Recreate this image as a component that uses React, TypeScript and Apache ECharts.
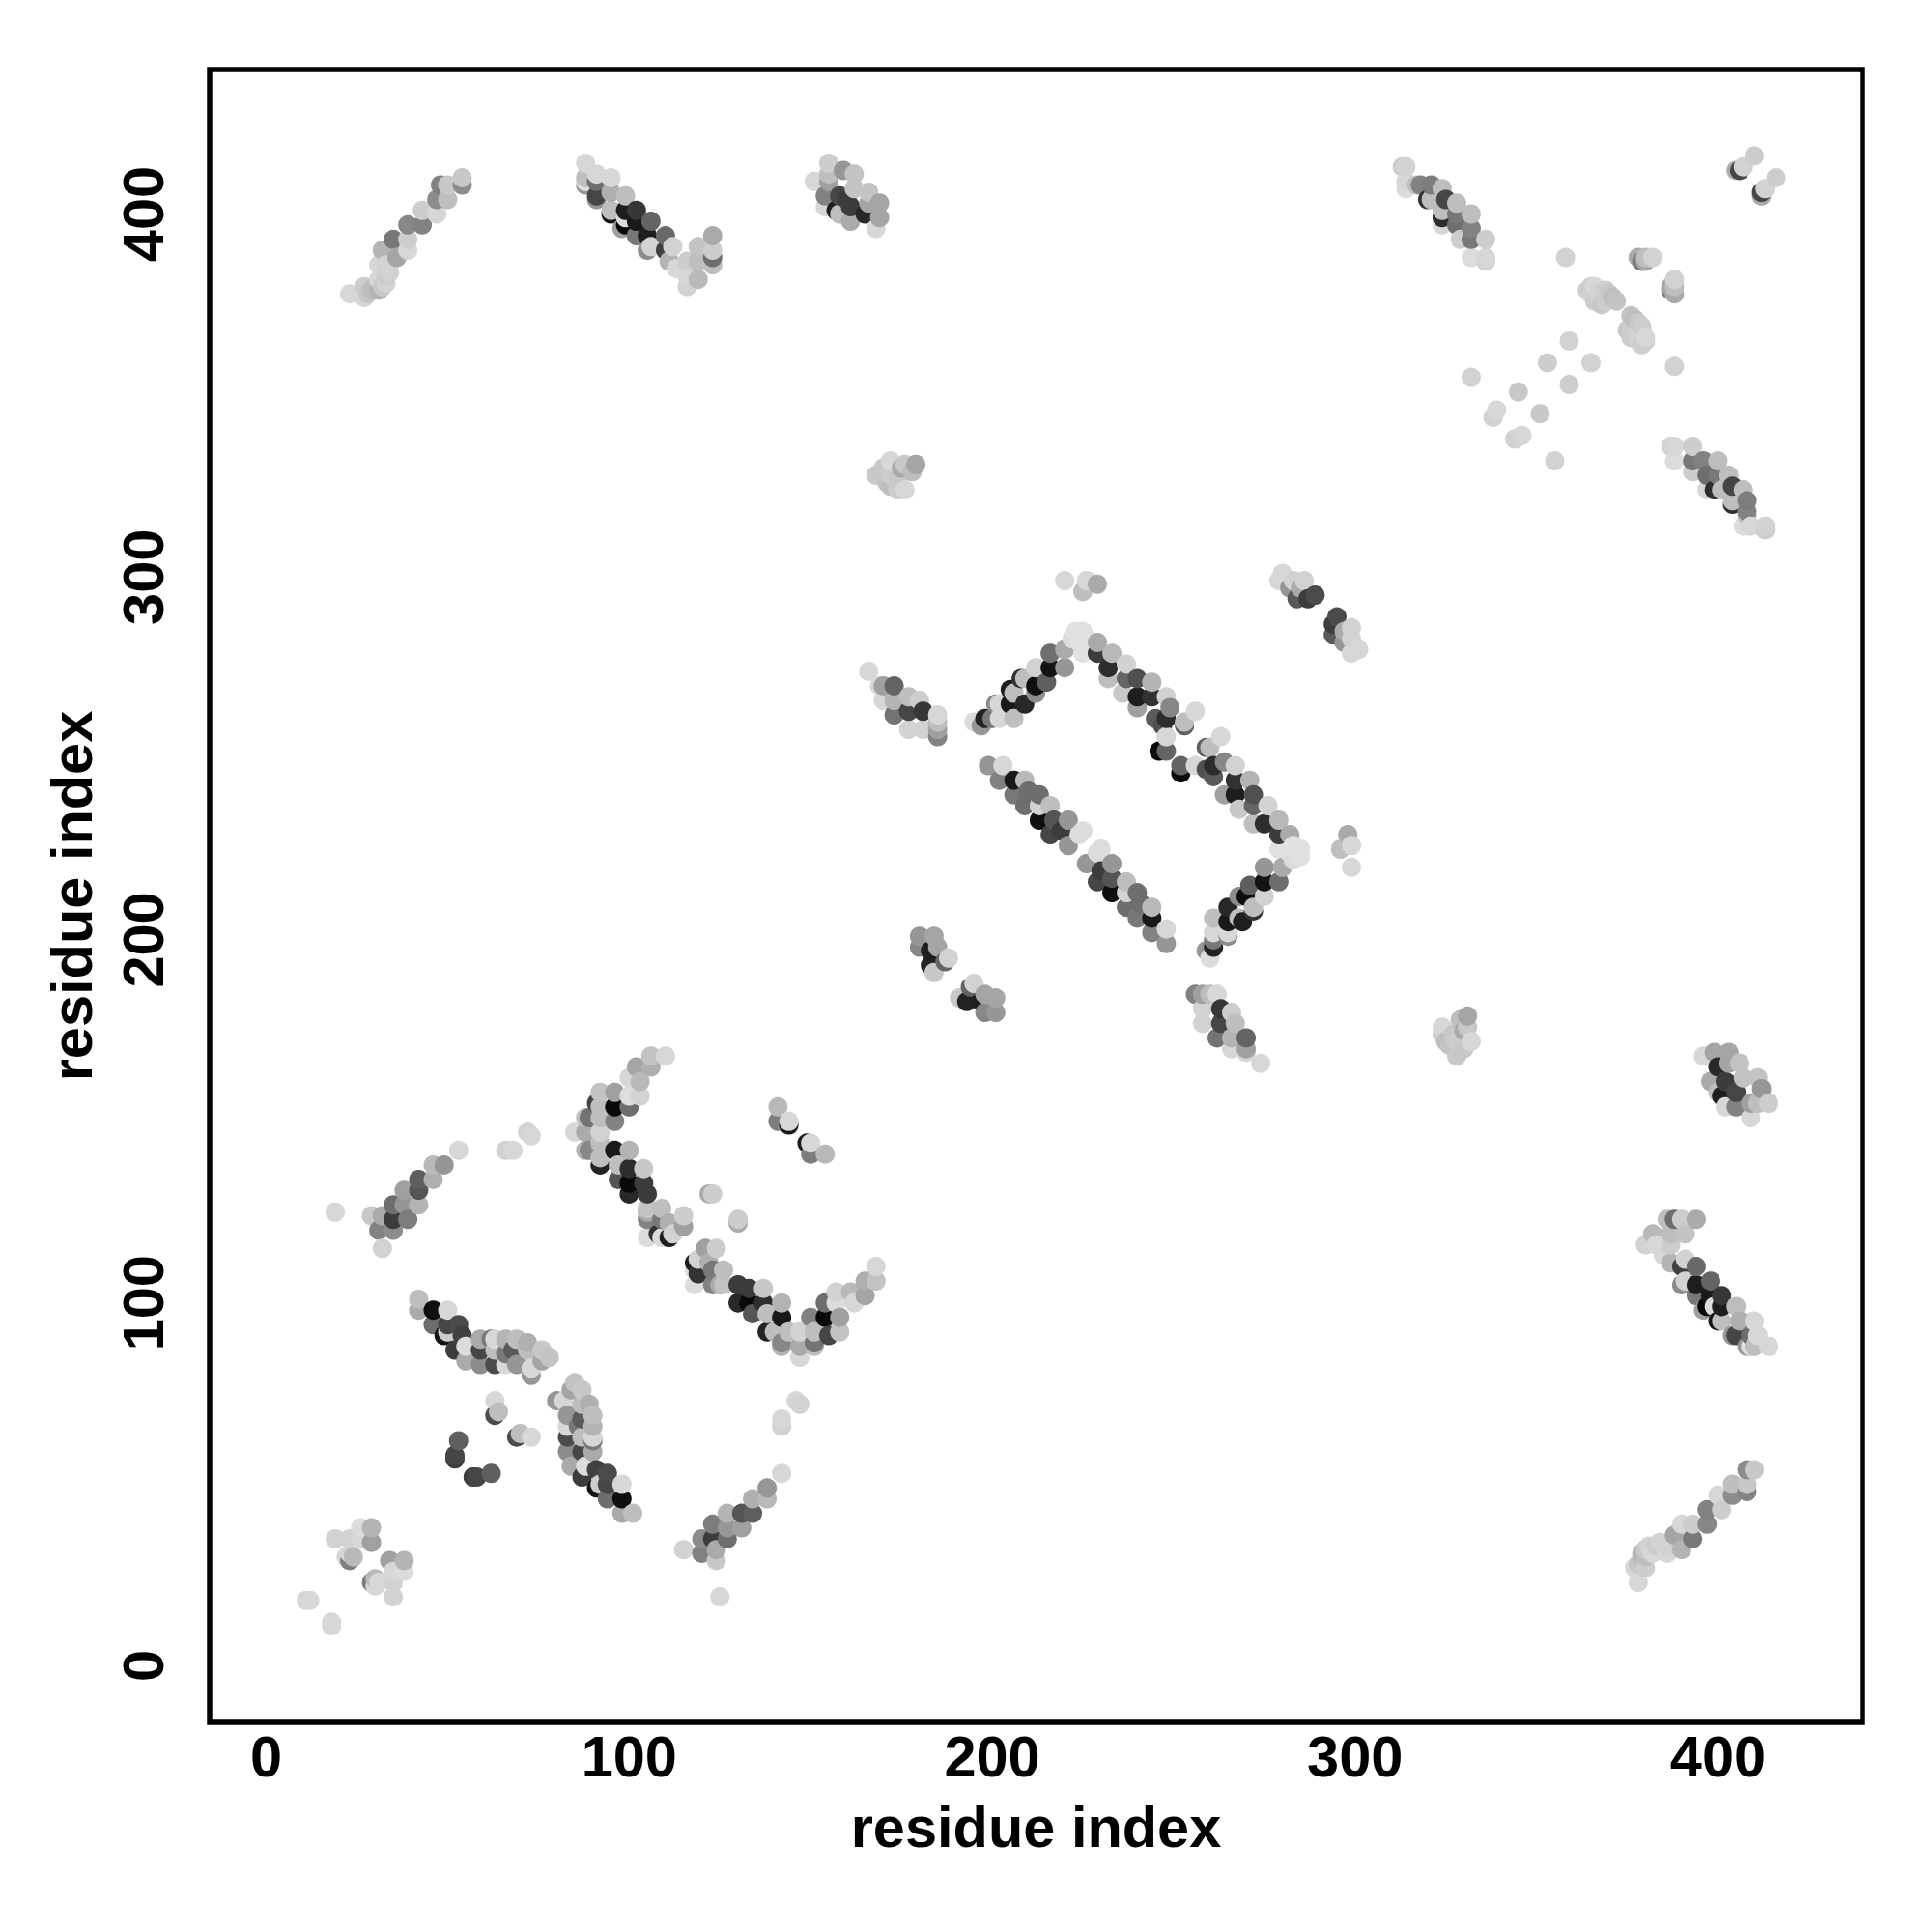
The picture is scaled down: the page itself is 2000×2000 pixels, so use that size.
import React, { useEffect, useRef } from "react";
import * as echarts from "echarts";

type C = [number, number, number];
// Contacts are [residue i, residue j, gray level]; the map is symmetric, so only i < j is listed.
const nearStart: C[] = [[11,18,215],[12,18,215],[19,35,210],[23,35,210],[26,38,220],[29,38,180],[29,34,160],[23,29,125],[24,30,185],[22,30,215],[23,31,215],[26,35,215]];
const strandA: C[] = [[42,101,190],[42,98,170],[46,98,15],[50,98,215],[46,94,110],[50,94,70],[53,94,75],[54,91,65],[49,91,20],[50,92,205],[52,87,60],[55,88,220],[59,90,170],[59,87,70],[59,83,140],[55,84,170],[62,90,120],[63,90,215],[63,87,190],[63,83,75],[66,90,180],[66,83,215],[66,86,120],[69,90,190],[68,87,90],[69,83,150],[72,89,175],[72,87,190],[73,80,150],[73,82,215],[76,84,165],[76,87,200],[78,85,195]];
const innerA: C[] = [[52,58,70],[53,62,95],[52,57,60],[63,73,215],[64,70,190],[63,69,75]];
const strandB: C[] = [[19,125,215],[32,115,210],[29,124,200],[32,124,170],[31,120,130],[35,120,140],[35,123,60],[35,127,110],[38,131,160],[39,123,125],[38,127,150],[42,127,180],[42,131,85],[42,134,95],[46,134,175],[46,138,185],[49,138,150],[53,142,215],[66,142,210],[68,142,215],[72,147,210],[73,146,215]];
const strandC: C[] = [[110,168,215],[106,168,195],[106,165,175],[102,165,165],[103,161,185],[100,162,215],[103,157,210],[100,157,220],[100,154,110],[96,158,160],[92,158,195],[96,154,10],[96,150,130],[92,154,190],[92,151,190],[91,155,70],[89,151,115],[88,151,190],[85,147,215],[88,147,170],[92,147,210]];
const strandD: C[] = [[92,144,190],[89,142,135],[88,142,180],[92,138,35],[92,140,190],[96,142,25],[100,142,180],[97,134,85],[97,138,190],[100,137,45],[104,137,200],[100,133,10],[104,133,60],[100,130,40],[105,130,60],[105,126,195],[109,126,190],[105,123,130],[105,125,170],[109,123,120],[105,118,220],[108,119,50],[109,118,220],[111,122,175],[111,118,30],[112,119,210],[115,121,160],[115,124,205],[122,130,170],[123,130,205],[141,154,185],[141,150,125],[144,149,25],[144,150,215]];
const topA: C[] = [[23,378,215],[27,377,215],[27,380,205],[28,378,200],[29,379,190],[30,380,190],[31,379,180],[32,380,200],[33,381,210],[31,382,215],[33,383,205],[34,384,210],[31,386,215],[33,386,210],[32,390,180],[36,388,165],[35,393,120],[39,390,215],[39,393,205],[39,397,135],[43,397,130],[43,401,205],[47,400,215],[47,404,140],[50,404,190],[48,408,130],[50,408,200],[54,408,140],[54,410,200]];
const topB: C[] = [[88,414,215],[88,410,190],[88,408,150],[88,409,225],[91,411,215],[91,409,110],[91,405,70],[91,404,150],[95,410,215],[95,406,175],[95,401,190],[95,400,20],[99,405,190],[99,401,30],[99,399,220],[99,397,10],[98,396,160],[102,401,55],[102,398,25],[102,394,120],[106,398,100],[105,394,30],[110,394,105],[106,391,210],[105,390,140],[110,390,65],[112,391,210],[111,387,180],[116,387,205],[113,385,215],[116,383,215],[116,380,210],[119,391,195],[119,387,190],[119,382,185],[123,394,170],[123,390,205],[123,388,110],[123,386,190]];
const topC: C[] = [[151,409,215],[155,414,205],[155,411,190],[155,409,160],[154,405,130],[154,402,215],[159,412,150],[158,405,70],[157,401,30],[158,400,190],[162,411,195],[162,407,195],[160,404,60],[161,402,60],[161,398,170],[166,406,195],[166,403,165],[165,400,40],[169,403,165],[169,399,165],[168,396,215]];
const topD: C[] = [[313,413,205],[314,413,210],[314,407,220],[314,409,215],[318,408,130],[317,408,190],[321,408,125],[324,407,190],[321,404,190],[320,404,50],[325,404,70],[328,403,190],[324,401,190],[324,399,45],[324,397,215],[328,400,120],[332,400,190],[328,397,110],[332,396,130],[329,393,205],[332,393,120],[336,393,205],[332,388,220],[336,388,215],[336,387,210]];
const topCorner: C[] = [[410,416,205],[405,412,170],[406,412,70],[407,413,210]];
const crossing: C[] = [[358,388,210],[378,388,170],[379,387,120],[380,387,165],[380,388,190],[382,388,210],[364,379,205],[365,378,210],[365,380,205],[366,380,215],[366,376,205],[367,376,205],[368,375,200],[367,378,210],[369,376,205],[369,379,205],[370,378,200],[372,376,195],[371,377,190],[332,355,210],[338,344,210],[339,346,215],[345,351,200],[353,359,205],[359,365,210]];
const midA: C[] = [[168,328,200],[172,332,215],[172,325,190],[171,326,195],[172,328,205],[170,330,200],[174,327,200],[174,324,205],[175,330,170],[176,331,200],[176,324,215],[178,329,190],[179,331,165],[220,299,215],[225,296,190],[226,299,215],[229,298,170]];
const midB: C[] = [[166,274,215],[170,270,160],[169,270,215],[173,270,100],[170,266,215],[173,266,180],[173,262,115],[177,267,190],[180,266,205],[177,263,70],[181,263,55],[177,258,210],[181,258,210],[185,262,215],[185,260,190],[185,258,160],[185,256,130]];
const midC: C[] = [[180,201,150],[184,201,165],[180,198,135],[185,198,165],[183,197,30],[188,195,210],[187,194,100],[184,191,200],[183,193,35],[279,299,215],[280,301,215],[283,299,210],[282,297,150],[285,297,170],[286,299,210],[284,294,90],[287,294,60],[289,295,75]];
const rectLeft: C[] = [[195,260,220],[198,261,35],[197,259,150],[200,261,120],[201,265,140],[202,265,215],[202,261,215],[206,261,190],[205,269,30],[205,265,25],[209,265,40],[208,272,50],[209,272,190],[206,268,190],[212,268,140],[212,270,15],[215,271,95],[212,275,210],[216,275,20],[216,279,110],[220,275,150],[220,280,170],[222,283,220],[223,285,225],[224,282,225],[225,285,225],[226,283,225],[225,279,225]];
const rectTop: C[] = [[229,282,170],[229,279,60],[233,279,185],[232,272,190],[232,275,45],[237,276,210],[237,272,100],[236,268,200],[240,272,80],[244,271,180],[240,264,160],[240,267,30],[244,267,50],[245,261,90],[248,267,210],[249,264,135],[248,261,45],[247,259,80],[253,260,190],[253,259,95],[256,263,215],[248,256,215],[248,252,100],[246,252,10]];
const rectBottom: C[] = [[199,248,150],[203,248,215],[202,244,130],[206,244,25],[209,244,185],[206,240,120],[210,241,110],[213,240,110],[209,237,110],[213,237,210],[216,237,190],[213,233,15],[217,233,85],[221,233,150],[216,229,70],[219,230,60],[221,226,150],[224,229,220],[225,230,220]];
const tickValues = [0, 100, 200, 300, 400];
const axisName = "residue index";

const contacts = [nearStart, strandA, innerA, strandB, strandC, strandD, topA, topB, topC, topD, topCorner, crossing, midA, midB, midC, rectLeft, rectTop, rectBottom].flat();
const points = contacts.flatMap(([i, j, g]) => [[i, j, g], [j, i, g]]).sort((a, b) => a[0] - b[0] || a[1] - b[1]);

const font = { fontFamily: "Liberation Sans", fontWeight: "bold" as const, fontSize: 59.5, color: "#000" };

export default function App() {
  const ref = useRef<HTMLDivElement>(null);
  useEffect(() => {
    const chart = echarts.init(ref.current!, null, { renderer: "svg" });
    const axis = (rotate: number, gap: number, margin: number) => ({
      type: "value" as const,
      min: -15.6,
      max: 439.8,
      name: axisName,
      nameLocation: "middle" as const,
      nameGap: gap,
      nameTextStyle: font,
      axisLine: { show: false },
      axisTick: { show: false },
      splitLine: { show: false },
      axisLabel: { ...font, rotate, margin, customValues: tickValues, showMinLabel: true, showMaxLabel: true },
    });
    chart.setOption({
      animation: false,
      backgroundColor: "#fff",
      grid: { show: true, left: 217, top: 72, width: 1711, height: 1711, borderColor: "#000", borderWidth: 5.5, backgroundColor: "transparent" },
      xAxis: { ...axis(0, 78, 5) },
      yAxis: { ...axis(90, 113, 39) },
      series: [{
        type: "scatter",
        symbolSize: 20,
        data: points,
        itemStyle: { opacity: 1, color: (p: any) => { const g = p.value[2]; return `rgb(${g},${g},${g})`; } },
      }],
    });
    return () => chart.dispose();
  }, []);
  return <div ref={ref} style={{ position: "absolute", left: 0, top: 0, width: 2000, height: 2000 }} />;
}
